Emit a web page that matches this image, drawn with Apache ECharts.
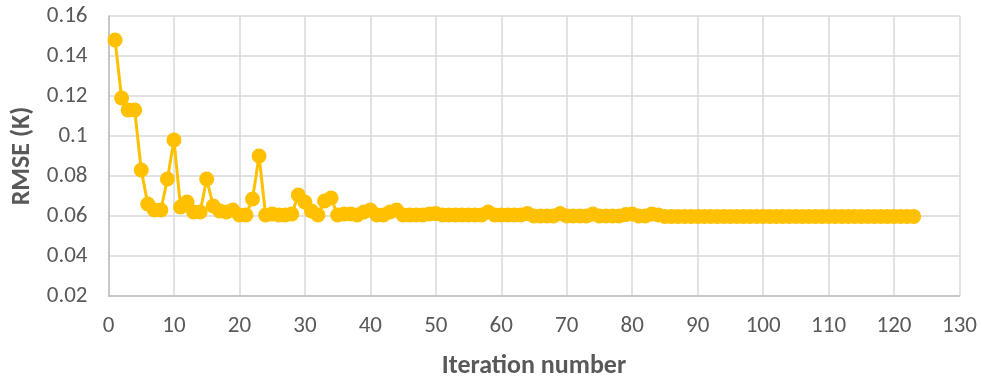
<!DOCTYPE html>
<html><head><meta charset="utf-8">
<script src="https://cdn.jsdelivr.net/npm/echarts@6/dist/echarts.min.js"></script>
<style>html,body{margin:0;padding:0;background:#fff}#c{width:982px;height:381px}</style>
</head><body><div id="c"></div>
<script>
const xTitle = 'Iteration number';
const yTitle = 'RMSE (K)';
const iterations = [];
const rmse = [
0.148,0.119,0.113,0.113,0.083,0.066,0.063,0.063,0.0785,0.098,
0.0645,0.067,0.062,0.062,0.0785,0.065,0.0625,0.062,0.063,0.0605,
0.0605,0.0685,0.090,0.0605,0.061,0.0605,0.0605,0.061,0.0705,0.067,
0.0625,0.0605,0.0675,0.069,0.0605,0.061,0.061,0.0605,0.062,0.063,
0.0605,0.0605,0.062,0.063,0.0605,0.0605,0.0605,0.0605,0.061,0.0612,
0.0605,0.0605,0.0605,0.0605,0.0605,0.0605,0.0605,0.062,0.0605,0.0605,
0.0605,0.0605,0.0605,0.0612,0.060,0.060,0.060,0.060,0.0612,0.060,
0.060,0.060,0.060,0.061,0.060,0.060,0.060,0.060,0.0607,0.061,
0.060,0.060,0.061,0.0605,0.0598,0.0598,0.0598,0.0598,0.0598,0.0598,
0.0598,0.0598,0.0598,0.0598,0.0598,0.0598,0.0598,0.0598,0.0598,0.0598,
0.0598,0.0598,0.0598,0.0598,0.0598,0.0598,0.0598,0.0598,0.0598,0.0598,
0.0598,0.0598,0.0598,0.0598,0.0598,0.0598,0.0598,0.0598,0.0598,0.0598,
0.0598,0.0598,0.0598
];
for (let i = 0; i < rmse.length; i++) iterations.push(i + 1);
const data = iterations.map((x, i) => [x, rmse[i]]);
const FONT = "Carlito,'Open Sans',sans-serif";
const chart = echarts.init(document.getElementById('c'), null, {renderer: 'canvas'});
chart.setOption({
  animation: false,
  backgroundColor: '#ffffff',
  grid: {left: 108.5, right: 22.5, top: 16, bottom: 85, containLabel: false, outerBoundsMode: 'none'},
  xAxis: {
    type: 'value', min: 0, max: 130, interval: 10,
    name: xTitle, nameLocation: 'middle', nameGap: 57,
    nameTextStyle: {fontFamily: FONT, fontWeight: 'bold', fontSize: 26, color: '#595959'},
    axisLine: {show: true, lineStyle: {color: '#bfbfbf', width: 1.5}},
    axisTick: {show: false},
    axisLabel: {fontFamily: FONT, fontSize: 23, color: '#595959', margin: 19},
    splitLine: {show: true, lineStyle: {color: '#d9d9d9', width: 1.5}}
  },
  yAxis: {
    type: 'value', min: 0.02, max: 0.16, interval: 0.02,
    name: yTitle, nameLocation: 'middle', nameGap: 73, nameRotate: 90,
    nameTextStyle: {fontFamily: FONT, fontWeight: 'bold', fontSize: 26, color: '#595959'},
    axisLine: {show: true, lineStyle: {color: '#bfbfbf', width: 1.5}},
    axisTick: {show: false},
    axisLabel: {fontFamily: FONT, fontSize: 23, color: '#595959', margin: 21,
      formatter: v => String(parseFloat(v.toFixed(2)))},
    splitLine: {show: true, lineStyle: {color: '#d9d9d9', width: 1.5}}
  },
  series: [{
    type: 'line', data: data,
    symbol: 'circle', symbolSize: 15,
    itemStyle: {color: '#FFC000'},
    lineStyle: {color: '#FFC000', width: 3}
  }]
});
</script></body></html>
